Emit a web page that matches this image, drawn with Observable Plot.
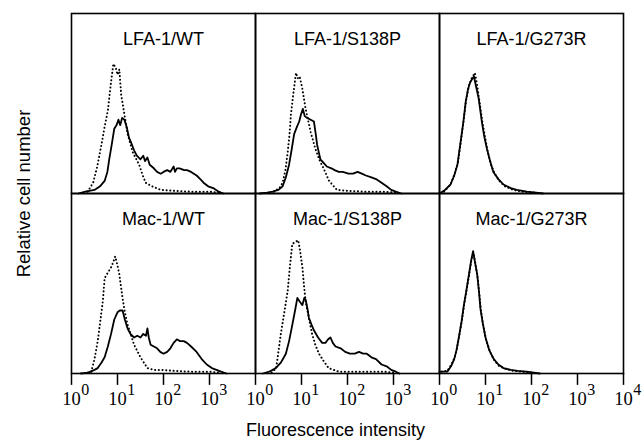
<!DOCTYPE html>
<html><head><meta charset="utf-8">
<script src="https://cdn.jsdelivr.net/npm/d3@7"></script>
<script src="https://cdn.jsdelivr.net/npm/@observablehq/plot@0.6"></script>
<style>body{margin:0;background:#fff} #chart{width:644px;height:444px}</style>
</head><body><div id="chart"></div>
<script>
const receptors = ["LFA-1", "Mac-1"];
const mutants = ["WT", "S138P", "G273R"];
const tickExponents = [0, 1, 2, 3];
const lastExponent = 4;
const yLabel = "Relative cell number";
const xLabel = "Fluorescence intensity";

// [log10 fluorescence intensity, relative cell number (% of panel height)]
const lfaWT_solid = [[0.15,0],[0.3,1],[0.5,2],[0.62,4],[0.72,7],[0.78,12],[0.82,19],[0.88,28],[0.93,36],[0.98,38],[1.02,41],[1.06,38],[1.1,42],[1.15,41],[1.2,37],[1.25,31],[1.3,28],[1.36,24],[1.42,21],[1.5,19],[1.56,21],[1.6,18],[1.65,20],[1.7,16],[1.79,14],[1.86,12],[1.94,11],[2.0,12],[2.08,13],[2.15,12],[2.22,15],[2.25,12],[2.29,14],[2.35,14],[2.45,13],[2.51,13],[2.6,12],[2.72,10],[2.8,8],[2.87,6],[2.97,4],[3.08,3],[3.2,1],[3.3,0]];
const lfaWT_control = [[0.35,1],[0.47,6],[0.56,15],[0.65,27],[0.72,37],[0.79,46],[0.85,60],[0.91,72],[0.96,70],[1.0,66],[1.04,69],[1.08,55],[1.15,44],[1.22,33],[1.33,23],[1.47,16],[1.55,10],[1.61,6],[1.75,4],[1.94,2],[2.2,1.5],[2.6,1],[3.0,1],[3.2,0.5]];
const lfaS138P_solid = [[0.09,0],[0.25,0.5],[0.37,1],[0.5,2],[0.59,4],[0.66,9],[0.73,16],[0.79,25],[0.84,33],[0.9,37],[0.95,40],[0.99,44],[1.03,47],[1.07,43],[1.12,42],[1.2,41],[1.27,40],[1.31,33],[1.34,27],[1.41,19],[1.48,17],[1.55,15],[1.65,14],[1.72,13],[1.81,12],[1.9,12],[2.02,11],[2.12,11],[2.22,12],[2.31,11],[2.4,10],[2.52,9],[2.62,8],[2.74,6],[2.85,4],[2.95,2],[3.05,1],[3.17,0]];
const lfaS138P_control = [[0.4,1],[0.52,3],[0.59,6],[0.65,13],[0.7,23],[0.74,33],[0.77,44],[0.82,55],[0.88,67],[0.92,64],[0.96,65],[1.02,58],[1.09,47],[1.2,34],[1.3,25],[1.4,18],[1.48,14],[1.6,7],[1.77,2],[2.0,1.5],[2.4,1],[2.8,1],[3.1,0.5]];
const lfaG273R_solid = [[0,0],[0.12,2],[0.24,5],[0.32,10],[0.39,16],[0.46,29],[0.52,40],[0.57,51],[0.62,58],[0.67,62],[0.72,64],[0.75,65],[0.79,60],[0.85,53],[0.92,40],[0.97,32],[1.03,25],[1.1,18],[1.17,12],[1.28,8],[1.39,5],[1.55,3],[1.68,2],[1.9,1],[2.1,0.5],[2.25,0]];
const lfaG273R_control = [[0.1,1],[0.24,5],[0.33,11],[0.4,17],[0.47,30],[0.53,42],[0.58,52],[0.64,60],[0.7,64],[0.77,67],[0.82,60],[0.87,51],[0.93,40],[1.0,30],[1.05,23],[1.12,16],[1.2,11],[1.3,7],[1.42,4],[1.6,2],[1.8,1],[2.1,0.5]];
const macWT_solid = [[0.2,0],[0.36,0.5],[0.5,2],[0.57,3],[0.65,6],[0.72,9],[0.79,15],[0.86,22],[0.93,30],[1.0,34],[1.05,35],[1.11,35],[1.16,30],[1.22,25],[1.28,22],[1.36,20],[1.43,21],[1.5,20],[1.56,22],[1.62,21],[1.65,25],[1.68,20],[1.72,16],[1.79,15],[1.86,14],[1.93,12],[2.0,11],[2.08,12],[2.15,14],[2.22,17],[2.29,19],[2.36,18],[2.44,18],[2.51,17],[2.6,15],[2.72,12],[2.83,8],[2.94,5],[3.05,3],[3.15,2],[3.25,1],[3.37,0]];
const macWT_control = [[0.35,0.5],[0.43,1],[0.5,8],[0.57,18],[0.63,30],[0.68,40],[0.72,53],[0.79,56],[0.86,59],[0.91,62],[0.95,65],[1.0,60],[1.04,55],[1.11,42],[1.16,34],[1.22,27],[1.36,16],[1.5,9],[1.65,3],[1.8,2],[1.94,2],[2.2,1.5],[2.6,1],[3.0,1],[3.2,0.5]];
const macS138P_solid = [[0.16,0],[0.3,1],[0.44,3],[0.55,6],[0.66,11],[0.73,18],[0.8,27],[0.86,35],[0.91,42],[0.96,40],[1.02,38],[1.06,42],[1.09,41],[1.13,36],[1.16,31],[1.22,27],[1.27,24],[1.36,20],[1.45,17],[1.52,17],[1.58,19],[1.63,20],[1.68,17],[1.74,15],[1.85,14],[1.95,12],[2.05,11],[2.16,11],[2.25,12],[2.34,11],[2.42,11],[2.52,9],[2.62,8],[2.74,5],[2.85,4],[2.95,2],[3.05,1],[3.13,0]];
const macS138P_control = [[0.35,0.5],[0.45,3],[0.55,22],[0.62,33],[0.7,46],[0.75,60],[0.8,72],[0.86,73],[0.93,74],[0.97,68],[1.02,59],[1.05,50],[1.09,40],[1.16,31],[1.23,22],[1.3,16],[1.38,11],[1.48,7],[1.59,3],[1.81,1],[2.1,1],[2.5,1],[2.8,1],[3.0,0.5]];
const macG273R_solid = [[0,1],[0.1,1],[0.17,1],[0.25,4],[0.32,8],[0.37,13],[0.42,20],[0.48,29],[0.53,38],[0.59,47],[0.64,55],[0.69,63],[0.73,68],[0.77,62],[0.82,55],[0.86,45],[0.89,36],[0.94,28],[1.0,20],[1.08,13],[1.18,8],[1.28,5],[1.39,3],[1.55,2],[1.7,1.5],[1.89,1],[2.05,0.5],[2.18,0]];
const macG273R_control = [[0.05,1],[0.17,1.5],[0.26,5],[0.33,9],[0.38,14],[0.43,21],[0.49,30],[0.54,39],[0.6,48],[0.65,56],[0.7,64],[0.74,67],[0.78,61],[0.83,53],[0.87,43],[0.9,35],[0.95,27],[1.01,19],[1.1,12],[1.2,7],[1.3,4],[1.45,2.5],[1.6,1.5],[1.8,1],[2.0,0.5]];

const curves = [
  ["LFA-1","WT",lfaWT_solid,lfaWT_control],
  ["LFA-1","S138P",lfaS138P_solid,lfaS138P_control],
  ["LFA-1","G273R",lfaG273R_solid,lfaG273R_control],
  ["Mac-1","WT",macWT_solid,macWT_control],
  ["Mac-1","S138P",macS138P_solid,macS138P_control],
  ["Mac-1","G273R",macG273R_solid,macG273R_control]
];
const toRows = (row, col, pts) => pts.map(([lg, h]) => ({row, col, x: Math.pow(10, lg), y: h}));
const solidRows = curves.flatMap(([r, c, s]) => toRows(r, c, s));
const controlRows = curves.flatMap(([r, c, , k]) => toRows(r, c, k));
const titles = curves.map(([r, c]) => ({row: r, col: c, label: `${r}/${c}`}));
const ticks = mutants.flatMap(c => tickExponents.map(e => ({row: "Mac-1", col: c, e, v: Math.pow(10, e)})))
  .concat([{row: "Mac-1", col: mutants[2], e: lastExponent, v: Math.pow(10, lastExponent)}]);
const sans = "'Liberation Sans', Arial, Helvetica, sans-serif";
const serif = "'Liberation Serif', 'Times New Roman', serif";

const chart = Plot.plot({
  width: 644, height: 444,
  marginLeft: 70, marginRight: 21, marginTop: 12, marginBottom: 71,
  style: {background: "white", overflow: "visible"},
  x: {type: "log", domain: [1, 1e4], axis: null},
  y: {domain: [0, 100], axis: null},
  fx: {domain: mutants, padding: 0, axis: null},
  fy: {domain: receptors, padding: 0, axis: null},
  marks: [
    Plot.line(controlRows, {x: "x", y: "y", fx: "col", fy: "row", z: "col", stroke: "black", strokeWidth: 2, strokeDasharray: "0.1,3.6", strokeLinecap: "round"}),
    Plot.line(solidRows, {x: "x", y: "y", fx: "col", fy: "row", z: "col", stroke: "black", strokeWidth: 1.8}),
    Plot.frame({stroke: "black", strokeWidth: 1.6}),
    Plot.text(titles, {fx: "col", fy: "row", text: "label", frameAnchor: "top", dy: 19, fontSize: 18, fontFamily: sans, fill: "black"}),
    Plot.ruleX(ticks, {x: "v", fx: "col", fy: "row", y1: 0, y2: -6.6, stroke: "black", strokeWidth: 1.5}),
    Plot.text(ticks, {x: "v", fx: "col", fy: "row", text: () => "10", frameAnchor: "bottom", dy: 31, fontSize: 18.5, fontFamily: serif, fill: "black"}),
    Plot.text(ticks, {x: "v", fx: "col", fy: "row", text: d => String(d.e), frameAnchor: "bottom", dx: 9.8, dy: 21, textAnchor: "start", fontSize: 16, fontFamily: serif, fill: "black"}),
    Plot.text([{row: "LFA-1", col: "WT", label: yLabel}], {fx: "col", fy: "row", text: "label", frameAnchor: "bottom-left", textAnchor: "middle", rotate: -90, dx: -42, fontSize: 18.5, fontFamily: sans, fill: "black"}),
    Plot.text([{row: "Mac-1", col: "S138P", label: xLabel}], {fx: "col", fy: "row", text: "label", frameAnchor: "bottom", dx: -12, dy: 62, fontSize: 18, fontFamily: sans, fill: "black"})
  ]
});
document.getElementById("chart").append(chart);
</script>
</body></html>
